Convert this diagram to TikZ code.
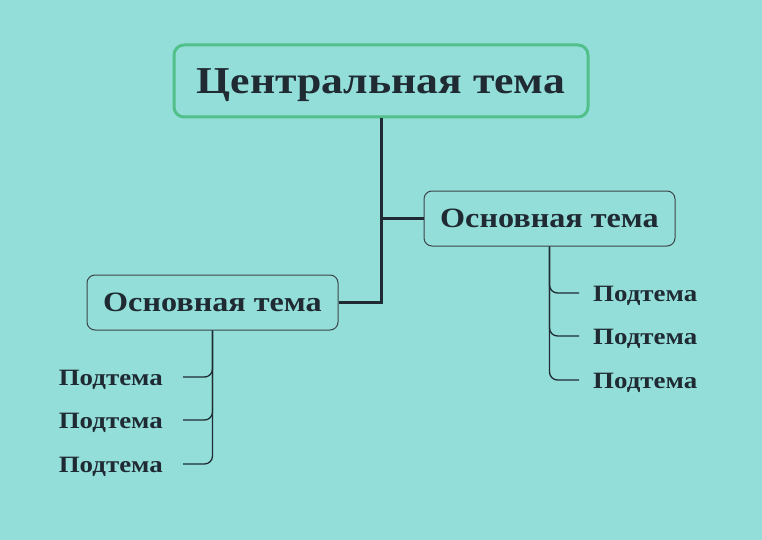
\documentclass[tikz,border=0pt]{standalone}
\usepackage{fontspec}
\setmainfont{Liberation Serif}
\newfontfamily\widefont[FakeStretch=1.15]{Liberation Serif}
\definecolor{bg}{HTML}{93DED9}
\definecolor{ink}{HTML}{1F2A33}
\definecolor{green}{HTML}{52C08A}
\definecolor{boxline}{HTML}{3C4448}
\tikzset{
  central/.style={draw=green, line width=3pt, rounded corners=10pt, minimum width=414pt, minimum height=72pt, text height=25.2pt, text depth=0pt, text=ink, font=\widefont\fontsize{38}{42}\selectfont\bfseries},
  mainbox/.style={draw=boxline, line width=1pt, rounded corners=8pt, minimum width=251pt, minimum height=55pt, text height=18.5pt, text depth=0pt, text=ink, font=\widefont\fontsize{28}{31}\selectfont\bfseries},
  subtext/.style={inner sep=0pt, text height=15.5pt, text depth=0pt, text=ink, font=\widefont\fontsize{23.4}{27}\selectfont\bfseries},
  mainline/.style={draw=ink, line width=3pt},
  subline/.style={draw=ink, line width=1.3pt, rounded corners=8pt},
}
\begin{document}
\begin{tikzpicture}[x=1pt,y=-1pt]
\fill[bg] (0,0) rectangle (762,540);
\useasboundingbox (0,0) rectangle (762,540);
\node[central] (c) at (381,81) {Центральная тема};
\node[mainbox] (r) at (549.5,218.5) {Основная тема};
\node[mainbox] (l) at (212.5,302.5) {Основная тема};
\node[subtext, anchor=west] (r1) at (593,294) {Подтема};
\node[subtext, anchor=west] (r2) at (593,337) {Подтема};
\node[subtext, anchor=west] (r3) at (593,381) {Подтема};
\node[subtext, anchor=east] (l1) at (163,378) {Подтема};
\node[subtext, anchor=east] (l2) at (163,421) {Подтема};
\node[subtext, anchor=east] (l3) at (163,465) {Подтема};
\draw[mainline] (c.south) |- (r.west);
\draw[mainline] (c.south) |- (l.east);
\draw[subline] (r.south) |- ([xshift=-14pt,yshift=1pt]r1.west);
\draw[subline] (r.south) |- ([xshift=-14pt,yshift=1pt]r2.west);
\draw[subline] (r.south) |- ([xshift=-14pt,yshift=1pt]r3.west);
\draw[subline] (l.south) |- ([xshift=20pt,yshift=1pt]l1.east);
\draw[subline] (l.south) |- ([xshift=20pt,yshift=1pt]l2.east);
\draw[subline] (l.south) |- ([xshift=20pt,yshift=1pt]l3.east);
\end{tikzpicture}
\end{document}
